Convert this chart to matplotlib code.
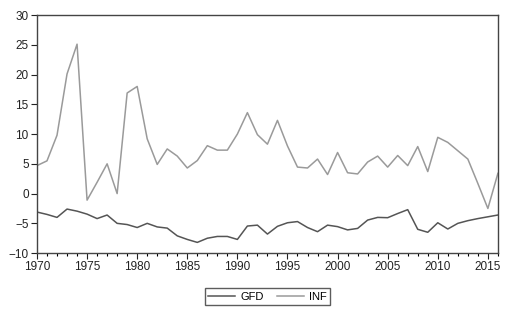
import matplotlib
matplotlib.use('Agg')
import matplotlib.pyplot as plt
import numpy as np
from matplotlib.ticker import MultipleLocator

plt.rcParams['font.family'] = ['Liberation Sans', 'DejaVu Sans']

# data
years = np.arange(1970, 2017)
gfd = [-3.1, -3.5, -4.0, -2.6, -2.95, -3.45, -4.2, -3.6, -5.0, -5.2,
       -5.7, -5.0, -5.6, -5.8, -7.1, -7.7, -8.2, -7.5, -7.2, -7.2,
       -7.7, -5.45, -5.3, -6.8, -5.5, -4.9, -4.7, -5.7, -6.4, -5.3,
       -5.55, -6.1, -5.85, -4.45, -4.0, -4.05, -3.35, -2.7, -6.0, -6.5,
       -4.9, -5.95, -5.0, -4.55, -4.2, -3.9, -3.6]
inf = [4.7, 5.5, 9.8, 20.1, 25.1, -1.1, 1.9, 5.0, 0.0, 16.9,
       18.0, 9.2, 4.9, 7.5, 6.3, 4.3, 5.55, 8.05, 7.3, 7.3,
       10.0, 13.6, 9.9, 8.3, 12.3, 8.0, 4.45, 4.3, 5.8, 3.2,
       6.9, 3.5, 3.3, 5.3, 6.3, 4.45, 6.4, 4.7, 7.9, 3.7,
       9.45, 8.6, 7.2, 5.8, 1.7, -2.5, 3.4]

fig = plt.figure(figsize=(5.23, 3.16), dpi=100)
ax = fig.add_axes([0.0707, 0.199, 0.8813, 0.7535])

ax.plot(years, gfd, color='#555555', linewidth=1.1, label='GFD')
ax.plot(years, inf, color='#9a9a9a', linewidth=1.1, label='INF')

ax.set_xlim(1970, 2016)
ax.set_ylim(-10, 30)
ax.set_yticks(range(-10, 31, 5))
ax.set_xticks(range(1970, 2016, 5))
ax.xaxis.set_minor_locator(MultipleLocator(1))

ax.tick_params(axis='both', which='major', direction='out', length=4,
               width=0.8, labelsize=8.5, colors='#222222', pad=2)
ax.tick_params(axis='x', which='minor', direction='out', length=2.5, width=0.8)
ax.tick_params(axis='y', which='minor', left=False)

for s in ax.spines.values():
    s.set_color('#444444')
    s.set_linewidth(1.0)

leg = ax.legend(loc='upper center', bbox_to_anchor=(0.5, -0.125), ncol=2,
                fontsize=8, frameon=True, fancybox=False, edgecolor='#333333',
                handlelength=2.4, borderpad=0.3, columnspacing=1.2,
                handletextpad=0.5)
leg.get_frame().set_linewidth(1.0)

fig.savefig('out.png', dpi=100, facecolor='white')
